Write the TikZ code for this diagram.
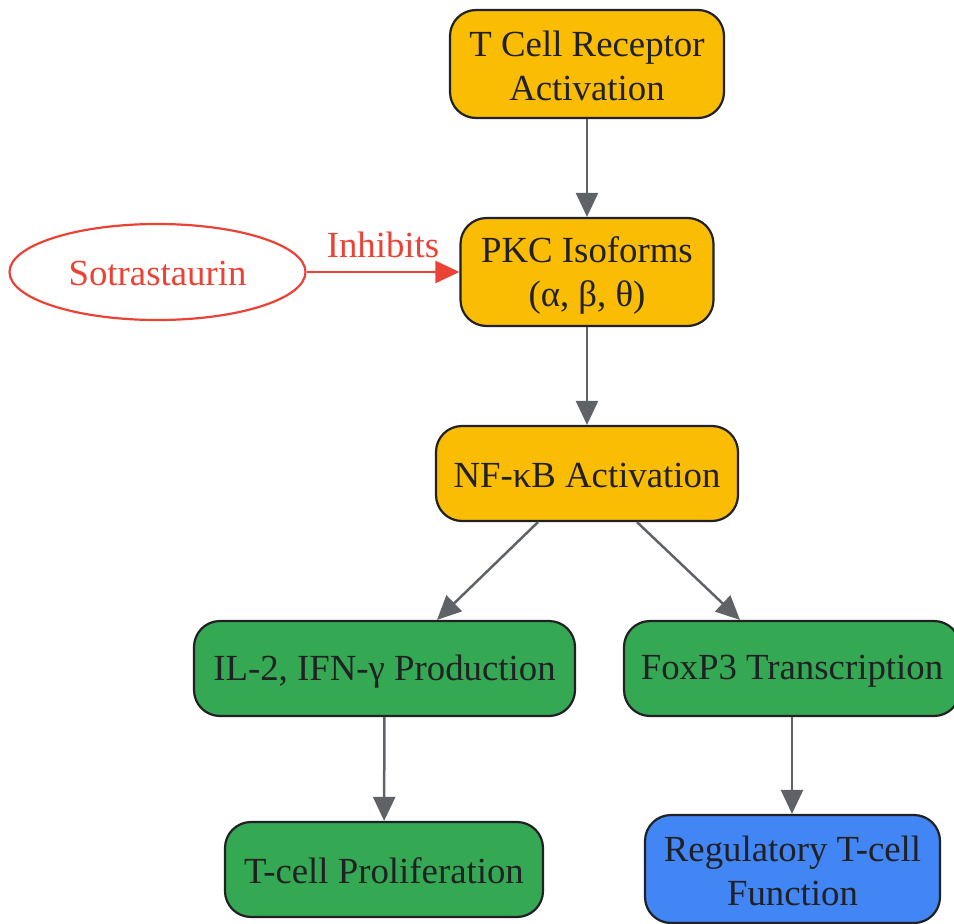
\documentclass[tikz,border=0pt]{standalone}
\usepackage{fontspec}
\setmainfont{Liberation Serif}
\usetikzlibrary{arrows.meta,shapes.geometric}
\definecolor{orangec}{HTML}{FBBC04}
\definecolor{greenc}{HTML}{34A853}
\definecolor{bluec}{HTML}{4285F4}
\definecolor{redc}{HTML}{EA4335}
\definecolor{grayc}{HTML}{5F6368}
\definecolor{textc}{HTML}{202124}
\newcommand\lw[1]{\raisebox{-3pt}[\height][\depth]{#1}}
\newcommand\lwt[1]{\raisebox{-1.5pt}[\height][\depth]{#1}}
\tikzset{
  box/.style={draw=textc, line width=2.2pt, rounded corners=26pt, text=textc,
    font=\fontsize{36.8}{44}\selectfont, align=center, inner sep=0pt},
  flow/.style={draw=grayc, line width=2.5pt, -{Triangle[length=24pt,width=22pt]}},
  inh/.style={draw=redc, line width=2.5pt, -{Triangle[length=24pt,width=22pt]}},
}
\begin{document}
\begin{tikzpicture}[x=1pt,y=-1pt]
\useasboundingbox (0,0) rectangle (954,924);
\node[box, fill=orangec, minimum width=274pt, minimum height=108pt] (tcr) at (587,64) {\lwt{T Cell Receptor}\\\lwt{Activation}};
\node[box, fill=orangec, minimum width=253pt, minimum height=108pt] (pkc) at (587,272) {\lw{PKC Isoforms}\\\lw{(α, β, θ)}};
\node[box, fill=orangec, minimum width=302pt, minimum height=95pt] (nfkb) at (587,473.5) {\lwt{NF-κB Activation}};
\node[box, fill=greenc, minimum width=381pt, minimum height=95pt] (il2) at (384.5,668.5) {\lw{IL-2, IFN-γ Production}};
\node[box, fill=greenc, minimum width=336pt, minimum height=95pt] (foxp3) at (792,668.5) {\lw{FoxP3 Transcription}};
\node[box, fill=greenc, minimum width=318pt, minimum height=95pt] (prolif) at (384,869.5) {\lwt{T-cell Proliferation}};
\node[box, fill=bluec, minimum width=295pt, minimum height=108pt] (treg) at (792.5,869) {\lwt{Regulatory T-cell}\\\lwt{Function}};
\node[ellipse, draw=redc, line width=2.2pt, text=redc, font=\fontsize{36.8}{44}\selectfont,
  minimum width=296pt, minimum height=96pt, inner sep=0pt] (sotra) at (157.5,272) {\lwt{Sotrastaurin}};
\draw[flow] (tcr) -- (pkc);
\draw[flow] (pkc) -- (nfkb);
\draw[flow] (nfkb.south -| 538,0) -- (il2.north -| 437,0);
\draw[flow] (nfkb.south -| 637,0) -- (foxp3.north -| 740,0);
\draw[flow] (il2) -- (prolif);
\draw[flow] (foxp3.south) -- (treg.north -| foxp3.south);
\draw[inh] (sotra) -- (pkc);
\node[text=redc, font=\fontsize{36.8}{44}\selectfont, inner sep=0pt] (lbl) at (383,245) {Inhibits};
\end{tikzpicture}
\end{document}
